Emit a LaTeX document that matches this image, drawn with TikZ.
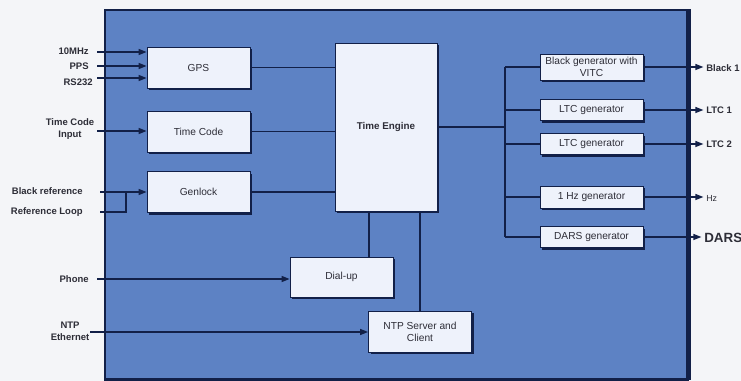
\documentclass[tikz,border=0pt]{standalone}
\usepackage{fontspec}
\setmainfont{Liberation Sans}
\usetikzlibrary{arrows.meta,shadows}

\definecolor{PanelBlue}{RGB}{93,130,196}
\definecolor{BoxFill}{RGB}{238,242,251}
\definecolor{WireNavy}{RGB}{18,32,72}
\definecolor{LabelGray}{RGB}{45,45,55}
\definecolor{PaperWhite}{RGB}{244,245,248}

\tikzset{
  box/.style={draw=WireNavy, fill=BoxFill, line width=0.5pt, minimum width=2.06cm,
    minimum height=0.82cm, inner sep=1pt, align=center, text=LabelGray,
    font=\fontsize{5.8}{6.8}\selectfont,
    drop shadow={shadow xshift=1.2pt, shadow yshift=-1.2pt, fill=WireNavy, opacity=1}},
  genbox/.style={box, minimum height=0.42cm},
  lbl/.style={font=\fontsize{5.4}{6.6}\selectfont\bfseries, text=LabelGray, inner sep=0pt, align=center},
  wire/.style={draw=WireNavy, line width=0.7pt},
  sig/.style={wire, -{Triangle[length=4.5pt,width=3.4pt]}},
}

\begin{document}
\begin{tikzpicture}[x=0.02cm,y=-0.02cm]
  \useasboundingbox[fill=PaperWhite] (0,0) rectangle (741,381);

  \node (panel) [draw=WireNavy, fill=PanelBlue, line width=0.8pt, minimum width=11.66cm, minimum height=7.38cm] at (396.5,194.5) {};
  \draw[WireNavy, line width=2.8pt] (panel.north east) -- (panel.south east);
  \draw[WireNavy, line width=1.5pt] (panel.south west) -- (panel.south east);

  % blocks
  \node (gps) [box] at (198.5,67.5) {GPS};
  \node (tcode) [box] at (198.5,131.5) {Time Code};
  \node (genlock) [box] at (198.5,192) {Genlock};
  \node (engine) [box, minimum width=2.04cm, minimum height=3.36cm, font=\fontsize{5.6}{6.8}\selectfont\bfseries] at (386,127) {Time Engine};
  \node (dialup) [box, minimum height=0.8cm] at (341.5,277) {Dial-up};
  \node (ntp) [box] at (420,331.5) {NTP Server and\\Client};

  \node (blackgen) [genbox, minimum height=0.52cm] at (591.5,67) {Black generator with\\VITC};
  \node (ltca) [genbox] at (591.5,110) {LTC generator};
  \node (ltcb) [genbox] at (591.5,144) {LTC generator};
  \node (hzgen) [genbox, minimum height=0.44cm] at (591.5,197) {1 Hz generator};
  \node (dars) [genbox] at (591.5,237) {DARS generator};

  % inputs
  \node (l10) [lbl, anchor=east] at (89,51) {10MHz};
  \node (lpps) [lbl, anchor=east] at (89,66) {PPS};
  \node (lrs) [lbl, anchor=east] at (93,82) {RS232};
  \node (ltc) [lbl] at (70,129) {Time Code\\Input};
  \node (lblack) [lbl, anchor=east] at (83,191) {Black reference};
  \node (lloop) [lbl, anchor=east] at (83,212) {Reference Loop};
  \node (lphone) [lbl, anchor=east] at (89,279) {Phone};
  \node (lntp) [lbl] at (70,331) {NTP\\Ethernet};

  \coordinate (a10) at (97,52);
  \coordinate (apps) at (97,66);
  \coordinate (ars) at (97,78);
  \coordinate (atc) at (97,131);
  \coordinate (ablack) at (100,192);
  \coordinate (aloop) at (100,212);
  \coordinate (ajoin) at (126,192);
  \coordinate (aphone) at (97,279);
  \coordinate (antp) at (90,332);

  \foreach \a/\b in {a10/gps,apps/gps,ars/gps,atc/tcode,ablack/genlock,aphone/dialup,antp/ntp}
    \draw[sig] (\a) -- (\a -| \b.west);
  \draw[wire] (aloop) -- (aloop -| ajoin) -- (ajoin);

  % into the engine
  \foreach \b in {gps,tcode,genlock}
    \draw[wire] (\b.east) -- (\b.east -| engine.west);
  \draw[wire] ([xshift=0.55cm]dialup.north) -- ([xshift=0.55cm]dialup.north |- engine.south);
  \draw[wire] (ntp.north) -- (ntp.north |- engine.south);

  % generator bus
  \coordinate (bus) at (505,127);
  \draw[wire] (engine.east) -- (bus);
  \draw[wire] (blackgen.west -| bus) -- (dars.west -| bus);
  \foreach \g in {blackgen,ltca,ltcb,hzgen,dars}
    \draw[wire] (\g.west -| bus) -- (\g.west);

  % outputs
  \node (oblack) [lbl, anchor=west] at (706,68) {Black 1};
  \node (oltca) [lbl, anchor=west] at (706,110) {LTC 1};
  \node (oltcb) [lbl, anchor=west] at (706,144) {LTC 2};
  \node (ohz) [lbl, anchor=west, font=\fontsize{5}{6}\selectfont] at (706,198) {Hz};
  \node (odars) [lbl, anchor=west, font=\fontsize{7.6}{9}\selectfont\bfseries] at (704,238) {DARS};

  \foreach \g/\o in {blackgen/oblack,ltca/oltca,ltcb/oltcb,hzgen/ohz,dars/odars}
    \draw[sig, shorten >=1.5pt] (\g.east) -- (\g.east -| \o.west);
\end{tikzpicture}
\end{document}
